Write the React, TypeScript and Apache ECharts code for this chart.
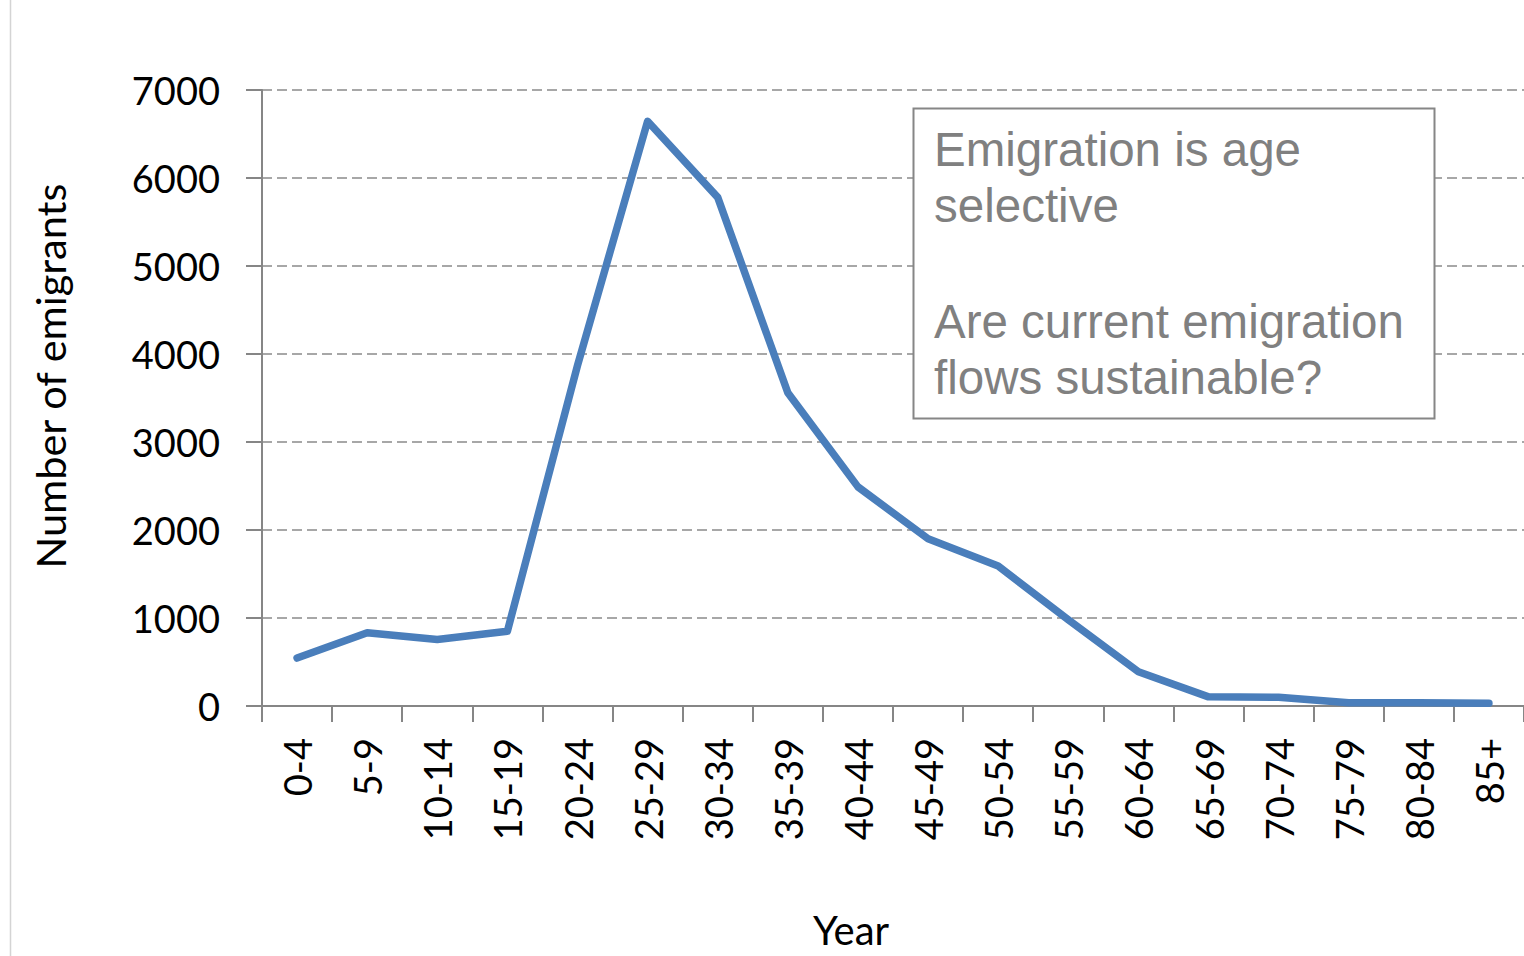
import React, { useEffect, useRef } from "react";
import * as echarts from "echarts";

const categories = ["0-4", "5-9", "10-14", "15-19", "20-24", "25-29", "30-34", "35-39", "40-44", "45-49", "50-54", "55-59", "60-64", "65-69", "70-74", "75-79", "80-84", "85+"];
const emigrants = [545, 832, 756, 850, 3870, 6645, 5780, 3560, 2490, 1900, 1590, 980, 390, 104, 100, 38, 36, 32];
const yTicks = { min: 0, max: 7000, interval: 1000 };
const yAxisTitle = "Number of emigrants";
const xAxisTitle = "Year";
const boxLines = ["Emigration is age", "selective", "", "Are current emigration", "flows sustainable?"];

export default function App() {
  const ref = useRef<HTMLDivElement>(null);
  useEffect(() => {
    if (!ref.current) return;
    const chart = echarts.init(ref.current, undefined, { renderer: "svg" });
    const axisGray = "#868686";
    const lineTexts: any[] = [];
    const baselines = [166, 222, 0, 338, 394];
    boxLines.forEach((t, i) => {
      if (!t) return;
      lineTexts.push({
        type: "text",
        x: 934,
        y: baselines[i] - 16.5,
        style: {
          text: t,
          font: '47.5px "Liberation Sans", Arial, sans-serif',
          fill: "#808080",
          textAlign: "left",
          textVerticalAlign: "middle",
        },
      });
    });
    chart.setOption({
      animation: false,
      backgroundColor: "#ffffff",
      grid: { left: 262, top: 90, right: 0, bottom: 250, containLabel: false },
      xAxis: {
        type: "category",
        data: categories,
        boundaryGap: true,
        axisLine: { lineStyle: { color: axisGray, width: 2 } },
        axisTick: { show: true, length: 16, inside: false, lineStyle: { color: axisGray, width: 2 } },
        axisLabel: {
          rotate: 90,
          margin: 32,
          color: "#000",
          fontFamily: "Lato, sans-serif",
          fontSize: 38,
          interval: 0,
        },
        splitLine: { show: false },
      },
      yAxis: {
        type: "value",
        min: yTicks.min,
        max: yTicks.max,
        interval: yTicks.interval,
        axisLine: { show: true, lineStyle: { color: axisGray, width: 2 } },
        axisTick: { show: true, length: 16, lineStyle: { color: axisGray, width: 2 } },
        axisLabel: {
          margin: 42,
          color: "#000",
          fontFamily: "Lato, sans-serif",
          fontSize: 38,
          formatter: (v: number) => String(v),
        },
        splitLine: {
          show: true,
          lineStyle: { color: "#8a8a8a", width: 1.5, type: [10, 5] },
        },
      },
      series: [
        {
          type: "line",
          data: emigrants,
          symbol: "none",
          lineStyle: { color: "#4a7ebb", width: 7.5, join: "round", cap: "round" },
          itemStyle: { color: "#4a7ebb" },
          z: 3,
        },
      ],
      graphic: [
        {
          type: "line",
          shape: { x1: 10.5, y1: 0, x2: 10.5, y2: 956 },
          style: { stroke: "#d4d4d4", lineWidth: 1.5 },
          silent: true,
        },
        {
          type: "text",
          x: 50,
          y: 376,
          rotation: Math.PI / 2,
          style: {
            text: yAxisTitle,
            font: "41.5px Lato, sans-serif",
            fill: "#000",
            textAlign: "center",
            textVerticalAlign: "middle",
          },
        },
        {
          type: "text",
          x: 851,
          y: 930,
          style: {
            text: xAxisTitle,
            font: "40px Lato, sans-serif",
            fill: "#000",
            textAlign: "center",
            textVerticalAlign: "middle",
          },
        },
        {
          type: "rect",
          shape: { x: 913.5, y: 108.5, width: 521, height: 310 },
          style: { fill: "#ffffff", stroke: "#868686", lineWidth: 2 },
          z: 10,
        },
        ...lineTexts.map((t) => ({ ...t, z: 11 })),
      ],
    });
    return () => chart.dispose();
  }, []);
  return (
    <div
      ref={ref}
      style={{ position: "fixed", left: 0, top: 0, width: 1524, height: 956, background: "#fff" }}
    />
  );
}
